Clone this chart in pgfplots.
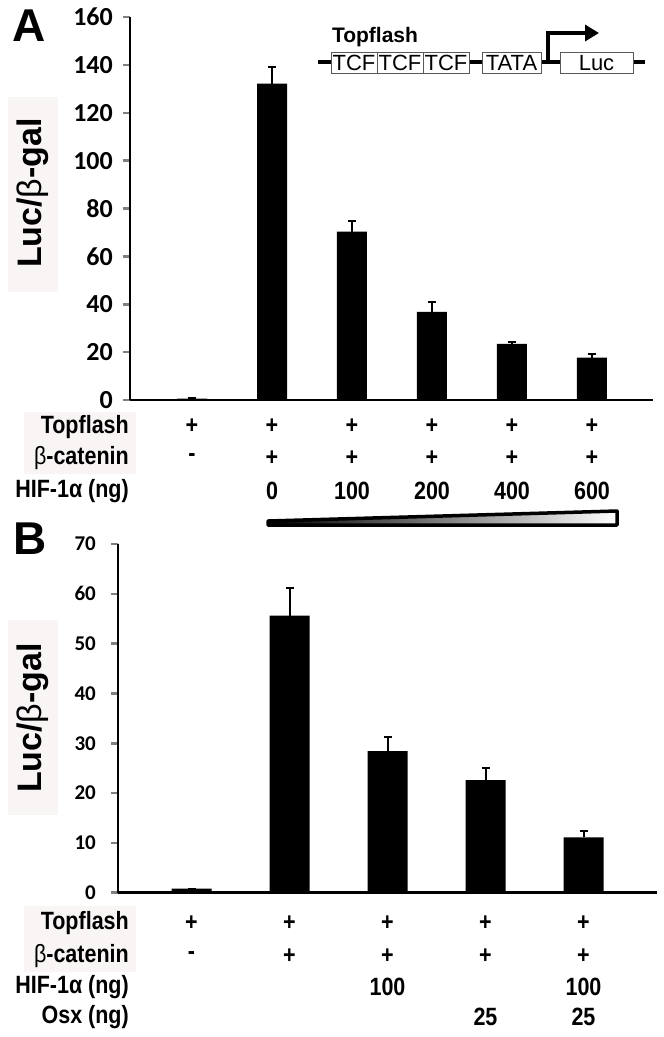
\documentclass[border=0pt]{standalone}
\usepackage{fontspec}
\setmainfont{Liberation Sans}
\newfontfamily\carlito{Carlito}
\newfontfamily\narrowfont[FakeStretch=0.86]{Liberation Sans}
\usepackage{pgfplots}
\pgfplotsset{compat=1.18}
\usetikzlibrary{arrows.meta}
\definecolor{lbg}{RGB}{249,245,245}
\begin{document}
\begin{tikzpicture}
\path[use as bounding box] (0,0) rectangle (664pt,-1037pt);
% faint backgrounds
\fill[lbg] (8pt,-97pt) rectangle (58pt,-292pt);
\fill[lbg] (24pt,-412pt) rectangle (136pt,-474pt);
\fill[lbg] (8pt,-620pt) rectangle (58pt,-815pt);
\fill[lbg] (24pt,-906pt) rectangle (136pt,-972pt);

\pgfplotsset{myax/.style={
  scale only axis, axis x line*=bottom, axis y line*=left,
  axis line style={line width=2.5pt,-},
  xtick=\empty, tick align=outside, major tick length=7pt,
  ytick style={line width=2.5pt},
  /pgf/number format/assume math mode=true,
  clip=false, ybar,
  error bars/y dir=plus, error bars/y explicit,
  error bars/error bar style={line width=2pt},
  error bars/error mark options={rotate=90, mark size=4pt, line width=2pt},
}}
\tikzset{rowf/.style={font=\fontsize{25}{25}\selectfont\narrowfont\bfseries, inner sep=1pt}}

% ---------- Panel A ----------
\begin{axis}[myax, at={(130pt,-400pt)}, anchor=south west,
  width=523pt, height=383pt, xmin=-0.775, xmax=5.7625, ymin=0, ymax=160,
  ytick={0,20,...,160}, bar width=30pt,
  yticklabel style={font=\fontsize{26}{26}\selectfont\carlito\bfseries, xshift=-9pt, inner sep=1pt}]
\addplot[fill=black, draw=none] coordinates {
(0,0.6) +- (0,0.4)
(1,132.2) +- (0,7.1)
(2,70.3) +- (0,4.5)
(3,36.8) +- (0,4.0)
(4,23.4) +- (0,0.8)
(5,17.7) +- (0,1.5)
};
\node[rowf] at (axis cs:0,0) [yshift=-26pt] {+};
\node[rowf] at (axis cs:1,0) [yshift=-26pt] {+};
\node[rowf] at (axis cs:2,0) [yshift=-26pt] {+};
\node[rowf] at (axis cs:3,0) [yshift=-26pt] {+};
\node[rowf] at (axis cs:4,0) [yshift=-26pt] {+};
\node[rowf] at (axis cs:5,0) [yshift=-26pt] {+};
\node[rowf] at (axis cs:0,0) [yshift=-58pt] {-};
\node[rowf] at (axis cs:1,0) [yshift=-58pt] {+};
\node[rowf] at (axis cs:2,0) [yshift=-58pt] {+};
\node[rowf] at (axis cs:3,0) [yshift=-58pt] {+};
\node[rowf] at (axis cs:4,0) [yshift=-58pt] {+};
\node[rowf] at (axis cs:5,0) [yshift=-58pt] {+};
\node[rowf] at (axis cs:1,0) [yshift=-91pt] {0};
\node[rowf] at (axis cs:2,0) [yshift=-91pt] {100};
\node[rowf] at (axis cs:3,0) [yshift=-91pt] {200};
\node[rowf] at (axis cs:4,0) [yshift=-91pt] {400};
\node[rowf] at (axis cs:5,0) [yshift=-91pt] {600};
\end{axis}

% ---------- Panel B ----------
\begin{axis}[myax, at={(118pt,-892.7pt)}, anchor=south west,
  width=539pt, height=348.7pt, xmin=-0.75, xmax=4.75, ymin=0, ymax=70,
  ytick={0,10,...,70}, bar width=40pt,
  yticklabel style={font=\fontsize{21}{21}\selectfont\carlito\bfseries, xshift=-14pt, inner sep=1pt}]
\addplot[fill=black, draw=none] coordinates {
(0,0.8) +- (0,0)
(1,55.6) +- (0,5.5)
(2,28.4) +- (0,2.8)
(3,22.6) +- (0,2.4)
(4,11.1) +- (0,1.3)
};
\node[rowf] at (axis cs:0,0) [yshift=-30pt] {+};
\node[rowf] at (axis cs:1,0) [yshift=-30pt] {+};
\node[rowf] at (axis cs:2,0) [yshift=-30pt] {+};
\node[rowf] at (axis cs:3,0) [yshift=-30pt] {+};
\node[rowf] at (axis cs:4,0) [yshift=-30pt] {+};
\node[rowf] at (axis cs:0,0) [yshift=-63pt] {-};
\node[rowf] at (axis cs:1,0) [yshift=-63pt] {+};
\node[rowf] at (axis cs:2,0) [yshift=-63pt] {+};
\node[rowf] at (axis cs:3,0) [yshift=-63pt] {+};
\node[rowf] at (axis cs:4,0) [yshift=-63pt] {+};
\node[rowf] at (axis cs:2,0) [yshift=-94pt] {100};
\node[rowf] at (axis cs:4,0) [yshift=-94pt] {100};
\node[rowf] at (axis cs:3,0) [yshift=-124pt] {25};
\node[rowf] at (axis cs:4,0) [yshift=-124pt] {25};
\end{axis}

% panel letters
\node[font=\fontsize{46}{46}\selectfont\bfseries] at (29pt,-26pt) {A};
\node[font=\fontsize{46}{46}\selectfont\bfseries] at (30pt,-539pt) {B};

% y labels
\node[rotate=90, font=\fontsize{34}{34}\selectfont\bfseries] at (33pt,-193pt) {Luc/{\mdseries β}-gal};
\node[rotate=90, font=\fontsize{34}{34}\selectfont\bfseries] at (33pt,-718pt) {Luc/{\mdseries β}-gal};

% row labels
\begin{scope}[rowf]
\node[anchor=east] at (130pt,-427pt) {Topflash};
\node[anchor=east] at (130pt,-458pt) {{\mdseries β}-catenin};
\node[anchor=east] at (130pt,-491pt) {HIF-1α (ng)};
\node[anchor=east] at (130pt,-923pt) {Topflash};
\node[anchor=east] at (130pt,-956pt) {{\mdseries β}-catenin};
\node[anchor=east] at (130pt,-987pt) {HIF-1α (ng)};
\node[anchor=east] at (130pt,-1017pt) {Osx (ng)};
\end{scope}

% wedge
\draw[line width=3.5pt, left color=black, right color=white, line join=round] (268pt,-525pt) -- (268pt,-521pt) -- (617pt,-511pt) -- (617pt,-525pt) -- cycle;

% Topflash construct diagram
\draw[line width=4pt] (318pt,-62pt) -- (645pt,-62pt);
\begin{scope}[font=\fontsize{22}{22}\selectfont]
\foreach \xa/\xb/\t in {331/377/TCF,377/423/TCF,423/469/TCF,482/541/TATA,560/633/Luc}{
  \filldraw[fill=white, draw=gray!70!black, line width=1pt] (\xa pt,-52pt) rectangle (\xb pt,-73pt);
  \node at ({(\xa+\xb)/2*1pt},-63pt) {\t};
}
\end{scope}
\node[font=\fontsize{21}{21}\selectfont\bfseries] at (375pt,-37pt) {Topflash};
\draw[line width=4pt, -{Triangle[length=14pt,width=16pt]}] (548pt,-62pt) -- (548pt,-33pt) -- (599pt,-33pt);
\end{tikzpicture}
\end{document}
